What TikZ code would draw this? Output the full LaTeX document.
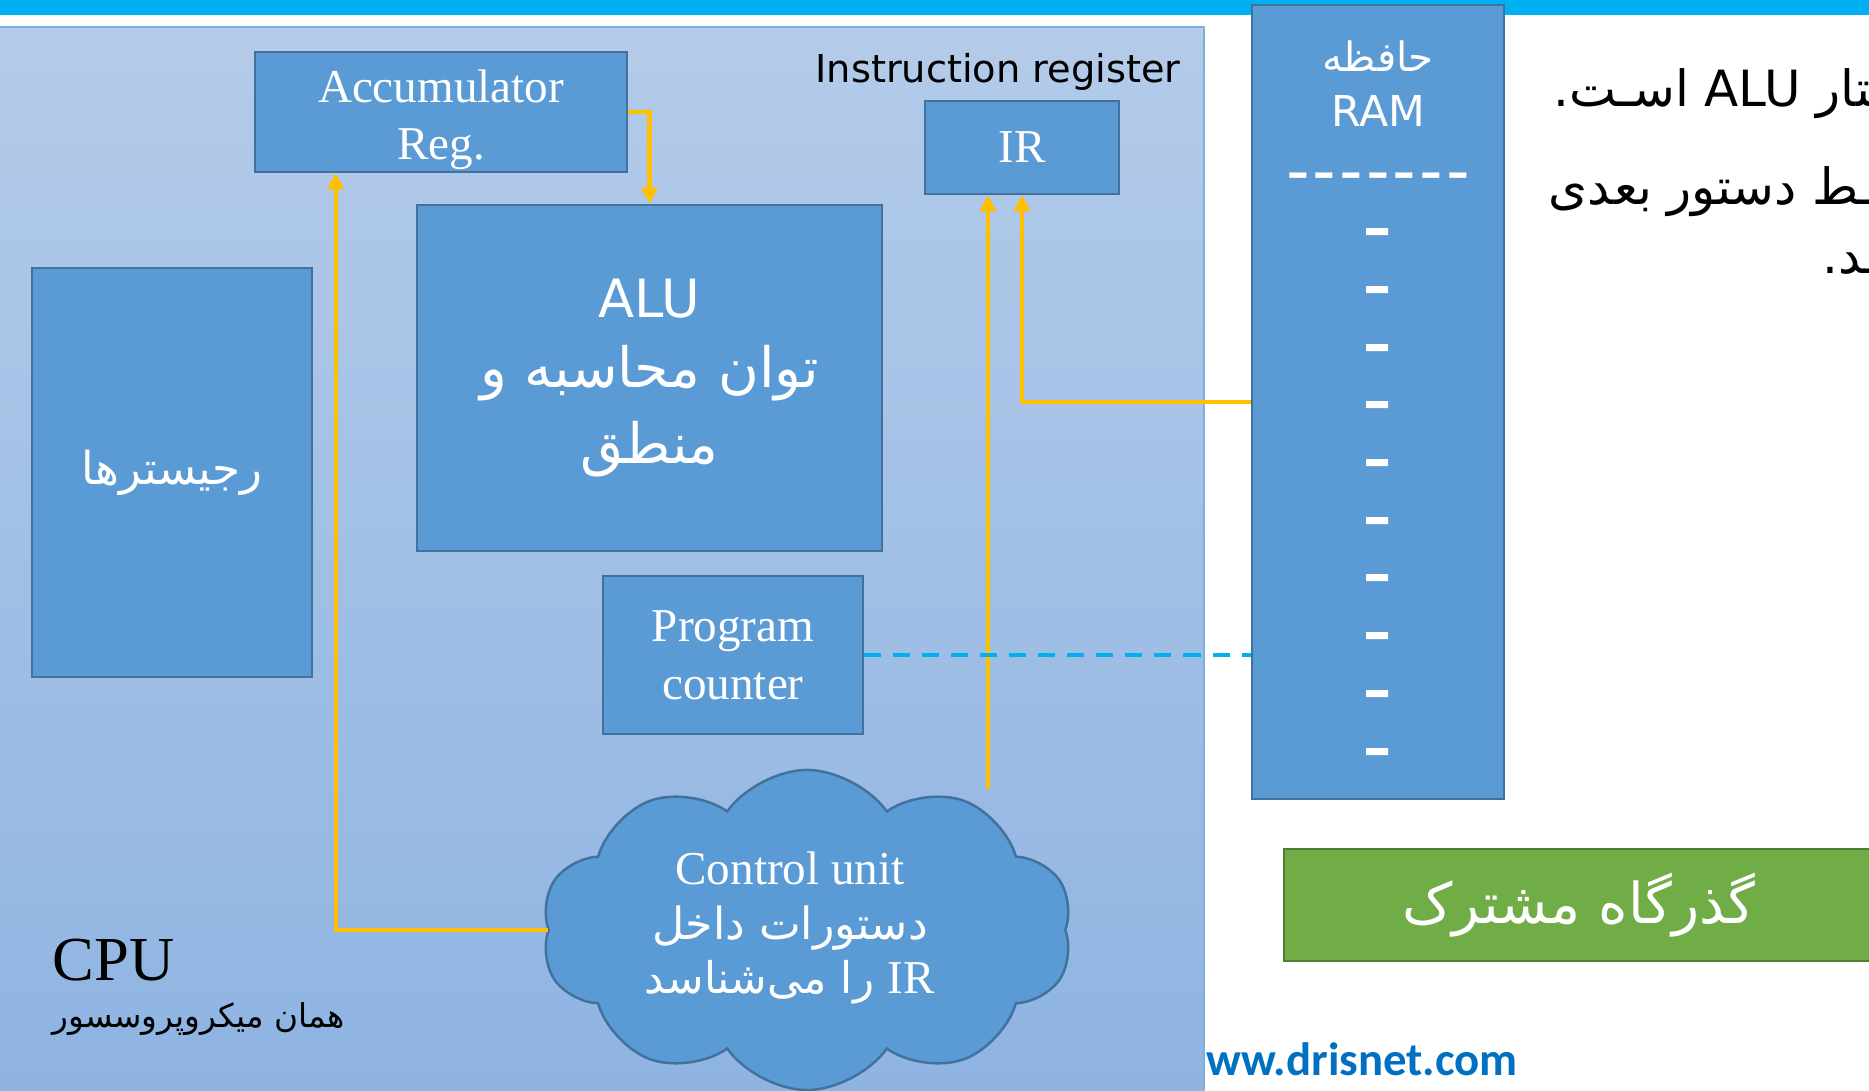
\documentclass[tikz,border=0pt]{standalone}
\usepackage{fontspec}
\setmainfont{Liberation Serif}
\newfontfamily\fa[Script=Arabic]{DejaVu Sans}
\newfontfamily\dv{DejaVu Sans}
\newfontfamily\cb{Carlito}
\TeXXeTstate=1
\usetikzlibrary{shapes.symbols,arrows.meta}

\definecolor{topbar}{HTML}{00B0F0}
\definecolor{cputop}{HTML}{B4CBE9}
\definecolor{cpubot}{HTML}{8FB4E2}
\definecolor{cpuedge}{HTML}{7FAEE0}
\definecolor{boxfill}{HTML}{5B9BD5}
\definecolor{boxedge}{HTML}{41719C}
\definecolor{wire}{HTML}{FFC000}
\definecolor{busfill}{HTML}{70AD47}
\definecolor{busedge}{HTML}{507E32}
\definecolor{url}{HTML}{0070C0}

\newcommand{\fs}[2]{\fontsize{#1}{#2}\selectfont}

\begin{document}
\begin{tikzpicture}[x=0.01cm,y=-0.01cm]
    \tikzset{
        blk/.style={draw=boxedge, fill=boxfill, line width=0.7pt, text=white, align=center, inner sep=0pt},
        link/.style={draw=wire, line width=1.15pt, -{Triangle[width=0.16cm,length=0.16cm]}},
        pcdash/.style={draw=topbar, line width=1.15pt, dash pattern=on 0.17cm off 0.12cm},
        note/.style={font=\fa\fs{14.2}{16}, anchor=base west, inner sep=0pt},
    }
    \useasboundingbox (0,0) rectangle (1869,1091);
    \fill[white] (0,0) rectangle (1869,1091);
    \fill[topbar] (0,0) rectangle (1869,15);

    % processor area
    \shade[top color=cputop, bottom color=cpubot] (0,27) rectangle (1204,1091);
    \draw[cpuedge, line width=0.4pt] (0,27) -- (1204,27) -- (1204,1091);

    \node[blk, minimum width=3.72cm, minimum height=1.2cm, text height=0.95cm, text depth=0pt, font=\fs{13.4}{16.2}] (acc) at (441,112) {Accumulator\\Reg.};
    \node[font=\dv\fs{10.9}{13}] (irlbl) at (998,72) {Instruction register};
    \node[blk, minimum width=1.94cm, minimum height=0.93cm, font=\fs{13.4}{16}] (ir) at (1022,147.5) {IR};
    \node[blk, minimum width=4.65cm, minimum height=3.46cm, font=\fa\fs{15.8}{21.5}] (alu) at (649.5,378)
        {{\dv\fs{15}{21.5}ALU}\\[-0.05cm]\beginR توان محاسبه و\endR\\\beginR منطق\endR};
    \node[blk, minimum width=2.8cm, minimum height=4.09cm, font=\fa\fs{12.9}{14}] (regs) at (172,472.5) {\beginR رجیسترها\endR};
    \node[blk, minimum width=2.6cm, minimum height=1.58cm, font=\fs{13.4}{16.5}] (pc) at (733,655) {Program\\counter};

    \node[cloud, cloud puffs=10, cloud puff arc=110, cloud ignores aspect, draw=boxedge, fill=boxfill, line width=0.7pt,
          minimum width=5.31cm, minimum height=3.2cm] (cu) at (807,930) {};
    \node[text=white, align=center, font=\fs{13.4}{15.6}] (cutext) at (790,928)
        {Control unit\\{\fa\fs{12.6}{15.6}\beginR دستورات داخل\endR}\\{\fa\fs{12.4}{15.6}\beginR{\rmfamily\fs{13.4}{15.6}\beginL IR\endL} را می‌شناسد\endR}};

    \node[anchor=west, inner sep=0pt, font=\fs{17.8}{20}] (cpu) at (52,960) {CPU};
    \node[anchor=west, inner sep=0pt, font=\fa\fs{9.3}{12}] (cpufa) at (52,1019) {\beginR همان میکروپروسسور\endR};

    % memory
    \node[blk, minimum width=2.52cm, minimum height=7.94cm] (ram) at (1378,402) {};
    \node[text=white, font=\fa\fs{11.5}{12}] (ramfa) at (1378,56) {\beginR حافظه\endR};
    \node[text=white, font=\dv\fs{12.1}{12}] (ramen) at (1378,111) {RAM};
    \node[anchor=north, text=white, align=center, inner sep=0pt, font=\dv\bfseries\fs{16}{16.4}] (cells) at (1378,172)
        {{\fs{12.3}{16.4}–\kern.05cm–\kern.05cm–\kern.05cm–\kern.05cm–\kern.05cm–\kern.05cm–}\\[0.03cm]–\\–\\–\\–\\–\\–\\–\\–\\–\\–};

    \node[blk, draw=busedge, fill=busfill, minimum width=5.9cm, minimum height=1.12cm, font=\fa\fs{16}{18}] (bus) at (1579,905)
        {\beginR گذرگاه مشترک\endR};

    \node[anchor=west, inner sep=0pt, text=url, font=\cb\bfseries\fs{13.3}{15}] (web) at (1206,1059) {ww.drisnet.com};

    % text at the right edge
    \node[note] (note1) at (1553,107) {\beginR ساختار {\dv\beginL ALU\endL} اسـت.\endR};
    \node[note] (note2) at (1548,205) {\beginR فقـــط دستور بعدی\endR};
    \node[note] (note3) at (1822,274) {\beginR ـد.\endR};

    % connections
    \coordinate (cutop) at (988,789);
    \draw[link] (acc.east) -| (alu.north);
    \draw[link] (cu.west) -| ([xshift=0.82cm]acc.south west);
    \draw[link] (cutop) -- (cutop |- ir.south);
    \draw[link] (ram.west) -| (ir.south);
    \draw[pcdash] (pc.east) -- (pc.east -| ram.west);
\end{tikzpicture}
\end{document}
